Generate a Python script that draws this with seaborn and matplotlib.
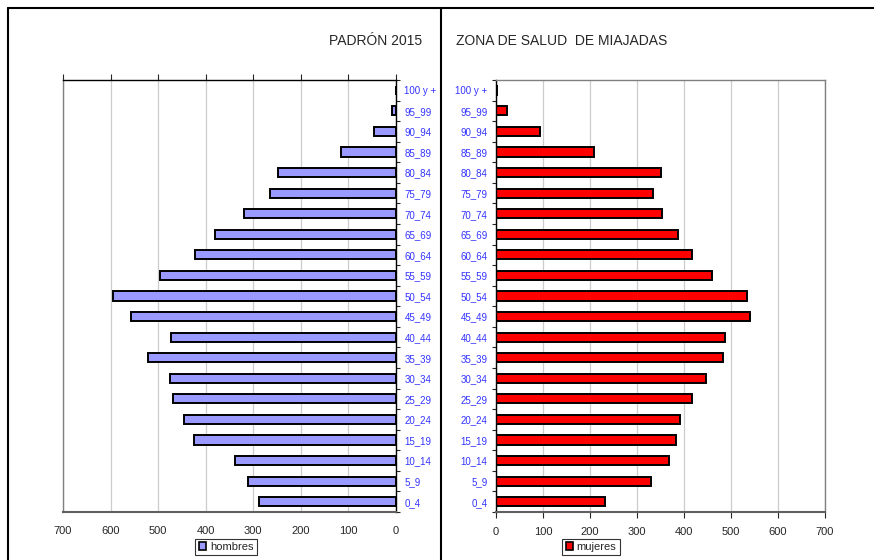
import matplotlib
matplotlib.use('Agg')
import matplotlib.pyplot as plt
from matplotlib.lines import Line2D
from matplotlib.patches import Patch
import numpy as np
import pandas as pd
import seaborn as sns

# grupos de edad, de arriba a abajo
grupos = ['100 y +', '95_99', '90_94', '85_89', '80_84', '75_79', '70_74',
          '65_69', '60_64', '55_59', '50_54', '45_49', '40_44', '35_39',
          '30_34', '25_29', '20_24', '15_19', '10_14', '5_9', '0_4']
hombres = [0, 9, 47, 116, 248, 264, 320, 381, 422, 496, 594, 558, 473, 522,
           475, 469, 445, 425, 339, 311, 289]
mujeres = [3, 23, 93, 209, 352, 333, 354, 388, 417, 460, 534, 540, 487, 483,
           447, 418, 391, 384, 369, 329, 231]
x_ticks = [0, 100, 200, 300, 400, 500, 600, 700]

df = pd.DataFrame({'grupo': grupos, 'hombres': hombres, 'mujeres': mujeres})

sns.set_style('white')
plt.rcParams['font.family'] = ['Liberation Sans', 'DejaVu Sans']

W, H = 874, 560
fig = plt.figure(figsize=(W / 100, H / 100), dpi=100)

def px_box(x0, x1, y0, y1):
    return [x0 / W, 1 - y1 / H, (x1 - x0) / W, (y1 - y0) / H]

blue_txt = '#3333FF'
n = len(grupos)

def style_axis(ax, side):
    ax.set_xlim(*((700, 0) if side == 'left' else (0, 700)))
    ax.set_ylim(n - 0.5, -0.5)
    ax.set_xticks(x_ticks)
    ax.set_xticklabels([str(v) for v in x_ticks], fontsize=8)
    ax.set_yticks(np.arange(n))
    ax.set_yticklabels(grupos, fontsize=7, color=blue_txt)
    ax.set_yticks(np.arange(n + 1) - 0.5, minor=True)
    ax.set_xlabel('')
    ax.set_ylabel('')
    ax.grid(axis='x', color='#cccccc', linewidth=0.9)
    ax.grid(axis='y', visible=False)
    ax.set_axisbelow(True)
    for s in ax.spines.values():
        s.set_visible(True)
        s.set_color('#808080')
        s.set_linewidth(1.0)

# ---- hombres ----
axl = fig.add_axes(px_box(63, 396, 80, 512))
sns.barplot(data=df, x='hombres', y='grupo', order=grupos, color='#9999FF',
            saturation=1, edgecolor='black', linewidth=1.4, width=0.45,
            orient='h', ax=axl)
style_axis(axl, 'left')
axl.yaxis.tick_right()
axl.tick_params(axis='y', which='major', length=0, pad=6)
axl.tick_params(axis='y', which='minor', right=True, left=False,
                length=3, width=0.8, direction='out')
for lab in axl.get_yticklabels():
    lab.set_horizontalalignment('left')
axl.tick_params(axis='x', top=True, bottom=False, labeltop=False,
                labelbottom=True, length=4, width=0.8, direction='out', pad=6)
axl.spines['top'].set_color('black')
axl.spines['right'].set_color('black')
axl.spines['bottom'].set_color('#606060')
axl.spines['bottom'].set_linewidth(1.5)

# ---- mujeres ----
axr = fig.add_axes(px_box(496, 825, 80, 512))
sns.barplot(data=df, x='mujeres', y='grupo', order=grupos, color='#FF0000',
            saturation=1, edgecolor='black', linewidth=1.4, width=0.45,
            orient='h', ax=axr)
style_axis(axr, 'right')
axr.tick_params(axis='y', which='major', length=0, pad=6)
axr.tick_params(axis='y', which='minor', left=True, length=3, width=0.8,
                direction='out')
axr.tick_params(axis='x', bottom=True, length=4, width=0.8, direction='out', pad=6.5)
axr.spines['left'].set_color('black')
axr.spines['bottom'].set_color('#606060')
axr.spines['bottom'].set_linewidth(1.5)

# ---- titulos ----
fig.text(422 / W, 1 - 41 / H, 'PADRÓN 2015', ha='right', va='center', fontsize=10)
fig.text(456 / W, 1 - 41 / H, 'ZONA DE SALUD  DE MIAJADAS', ha='left',
         va='center', fontsize=10)

# ---- leyendas ----
leg_kw = dict(loc='center', frameon=True, fancybox=False, fontsize=8,
              handlelength=0.7, handleheight=0.7, handletextpad=0.3,
              borderpad=0.3, borderaxespad=0)
lg = fig.legend(handles=[Patch(facecolor='#9999FF', edgecolor='black', linewidth=1.2)],
                labels=['hombres'], bbox_to_anchor=(226 / W, 1 - 547 / H), **leg_kw)
lg.get_frame().set_edgecolor('black')
lg.get_frame().set_linewidth(0.8)
lg2 = fig.legend(handles=[Patch(facecolor='#FF0000', edgecolor='black', linewidth=1.2)],
                 labels=['mujeres'], bbox_to_anchor=(591 / W, 1 - 547 / H), **leg_kw)
lg2.get_frame().set_edgecolor('black')
lg2.get_frame().set_linewidth(0.8)

# ---- marcos de los graficos ----
for xs, ys in [([8, 874], [8, 8]), ([8, 8], [8, 560]), ([441, 441], [8, 560])]:
    fig.add_artist(Line2D([x / W for x in xs], [1 - y / H for y in ys],
                          color='black', linewidth=1.5))

fig.savefig('out.png', dpi=100)
